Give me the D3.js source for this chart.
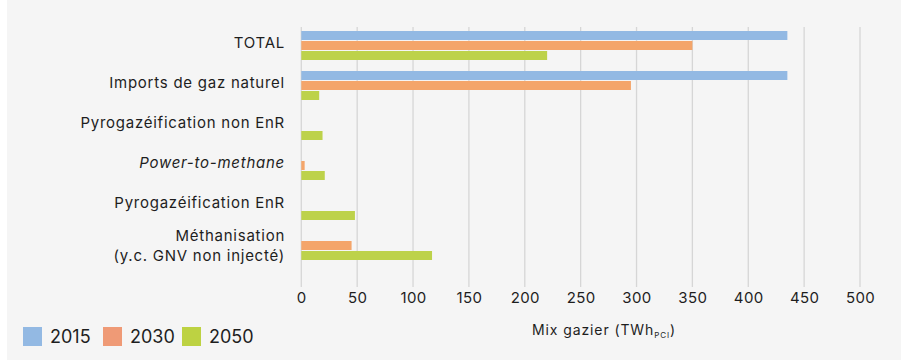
<!DOCTYPE html>
<html><head><meta charset="utf-8">
<script src="https://cdn.jsdelivr.net/npm/d3@7"></script>
<style>
html,body{margin:0;padding:0;background:#fff;}
svg{display:block;font-family:"Inter",sans-serif;}
</style></head>
<body><svg id="c" width="901" height="362"></svg>
<script>
const categories = ["TOTAL","Imports de gaz naturel","Pyrogazéification non EnR","Power-to-methane","Pyrogazéification EnR","Méthanisation|(y.c. GNV non injecté)"];
const seriesNames = ["2015","2030","2050"];
const values2015 = [435, 435, 0, 0, 0, 0];
const values2030 = [350, 295, 0, 3, 0, 45];
const values2050 = [220, 16, 19, 21, 48, 117];
const xTicks = [0,50,100,150,200,250,300,350,400,450,500];
const barColors = ["#93b9e3","#f4a56a","#bdd24a"];
const legendColors = ["#93b9e3","#ef9a76","#bdd242"];
const FONT = "Inter, sans-serif";

const svg = d3.select("#c");
svg.append("rect").attr("x",7).attr("y",0).attr("width",894).attr("height",360).attr("fill","#f5f5f5");

const x = d3.scaleLinear().domain([0,500]).range([301.3,860]);
const y = d3.scaleBand().domain(categories).range([26,266]).paddingInner(0.25).paddingOuter(0.125);
const plotTop = 27, plotBottom = 287;

// gridlines
svg.append("g").selectAll("line").data(xTicks).join("line")
  .attr("x1",d=>x(d)).attr("x2",d=>x(d)).attr("y1",plotTop).attr("y2",plotBottom)
  .attr("stroke","#d6d6d6").attr("stroke-width",1.3);

// bars
const series = [values2015, values2030, values2050];
series.forEach((vals,si)=>{
  svg.append("g").selectAll("rect").data(categories.map((c,i)=>({c,v:vals[i]}))).join("rect")
    .filter(d=>d.v>0)
    .attr("x",x(0)).attr("y",d=>y(d.c)+si*10)
    .attr("width",d=>x(d.v)-x(0)).attr("height",9)
    .attr("fill",barColors[si]);
});

// category labels
const lab = svg.append("g").attr("font-size",15).attr("fill","#1e1e1e").attr("text-anchor","end")
  .attr("font-family",FONT).attr("letter-spacing","0.75px");
categories.forEach(c=>{
  const lines = c.split("|");
  const cy = y(c)+y.bandwidth()/2;
  const t = lab.append("text").attr("x",285);
  if(c==="Power-to-methane") t.attr("font-style","italic");
  if(lines.length===1){
    t.attr("y",cy-3).attr("dy","0.35em").text(lines[0]);
  } else {
    lines.forEach((l,k)=>{
      t.append("tspan").attr("x",285).attr("y",cy-10+k*20).attr("dy","0.35em").text(l);
    });
  }
});

// x axis tick labels
const xAxis = d3.axisBottom(x).tickValues(xTicks).tickSize(0).tickPadding(0);
const gx = svg.append("g").attr("transform",`translate(0,${plotBottom+5})`).call(xAxis);
gx.select(".domain").remove();
gx.selectAll("text").attr("font-size",15).attr("fill","#1e1e1e").attr("font-family",FONT).attr("letter-spacing","0.4px");

// axis title
const at = svg.append("text").attr("x",604).attr("y",330).attr("dy","0.35em").attr("text-anchor","middle")
  .attr("font-size",14).attr("fill","#1e1e1e").attr("font-family",FONT).attr("letter-spacing","0.9px");
at.append("tspan").text("Mix gazier (TWh");
at.append("tspan").attr("font-size",8).attr("dy","3").text("PCI");
at.append("tspan").attr("dy","-3").text(")");

// legend
const legX = [23,103,182];
const lg = svg.append("g").attr("font-family",FONT);
seriesNames.forEach((s,i)=>{
  lg.append("rect").attr("x",legX[i]).attr("y",327).attr("width",19).attr("height",19).attr("fill",legendColors[i]);
  lg.append("text").attr("x",legX[i]+27).attr("y",337).attr("dy","0.35em").attr("font-size",18).attr("fill","#1e1e1e").text(s);
});
</script></body></html>
